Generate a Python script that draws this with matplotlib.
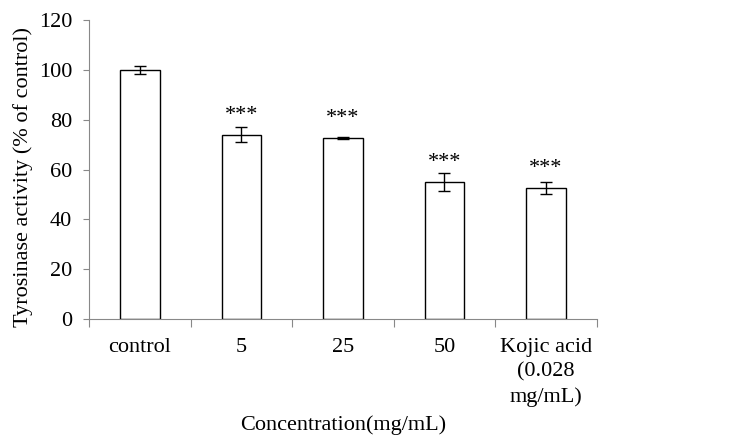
import numpy as np
import matplotlib.pyplot as plt

plt.rcParams['font.family'] = 'Liberation Serif'

# Dados
categorias = ['control', '5', '25', '50', 'Kojic acid\n(0.028\nmg/mL)']
atividade = [100.0, 74.0, 72.6, 55.0, 52.6]
erro = [1.5, 3.0, 0.4, 3.8, 2.5]
signif = ['', '***', '***', '***', '***']

fig = plt.figure(figsize=(7.45, 4.48), dpi=100)
ax = fig.add_axes([0.1195, 0.288, 0.6815, 0.667])

x = np.arange(len(categorias))
ax.bar(x, atividade, width=0.39, color='white', edgecolor='black', linewidth=1.0, zorder=2)
ax.errorbar(x, atividade, yerr=erro, fmt='none', ecolor='black', elinewidth=1.0,
            capsize=4, capthick=1.0, zorder=3)

for xi, v, s in zip(x, atividade, signif):
    if s:
        ax.text(xi, v + 6.0, s, ha='center', va='baseline', fontsize=16)

ax.set_xlim(-0.5, len(categorias) - 0.5)
ax.set_ylim(0, 120)
ax.set_yticks(np.arange(0, 121, 20))

# marcas entre categorias, rotulos no centro
ax.set_xticks(np.arange(-0.5, len(categorias), 1.0))
ax.set_xticklabels([])
ax.set_xticks(x, minor=True)
ax.set_xticklabels(categorias, minor=True, fontsize=16, linespacing=1.36)
ax.tick_params(axis='x', which='minor', length=0, pad=14)
ax.tick_params(axis='x', which='major', length=6, color='#888888', direction='out')
ax.tick_params(axis='y', length=4, color='#888888', labelsize=16, pad=8)

for lado in ['top', 'right']:
    ax.spines[lado].set_visible(False)
for lado in ['left', 'bottom']:
    ax.spines[lado].set_color('#888888')

ax.set_ylabel('Tyrosinase activity (% of control)', fontsize=16, labelpad=4)
ax.yaxis.label.set_y(0.475)
ax.set_xlabel('Concentration(mg/mL)', fontsize=16, labelpad=6)

plt.savefig('out.png', dpi=100)
